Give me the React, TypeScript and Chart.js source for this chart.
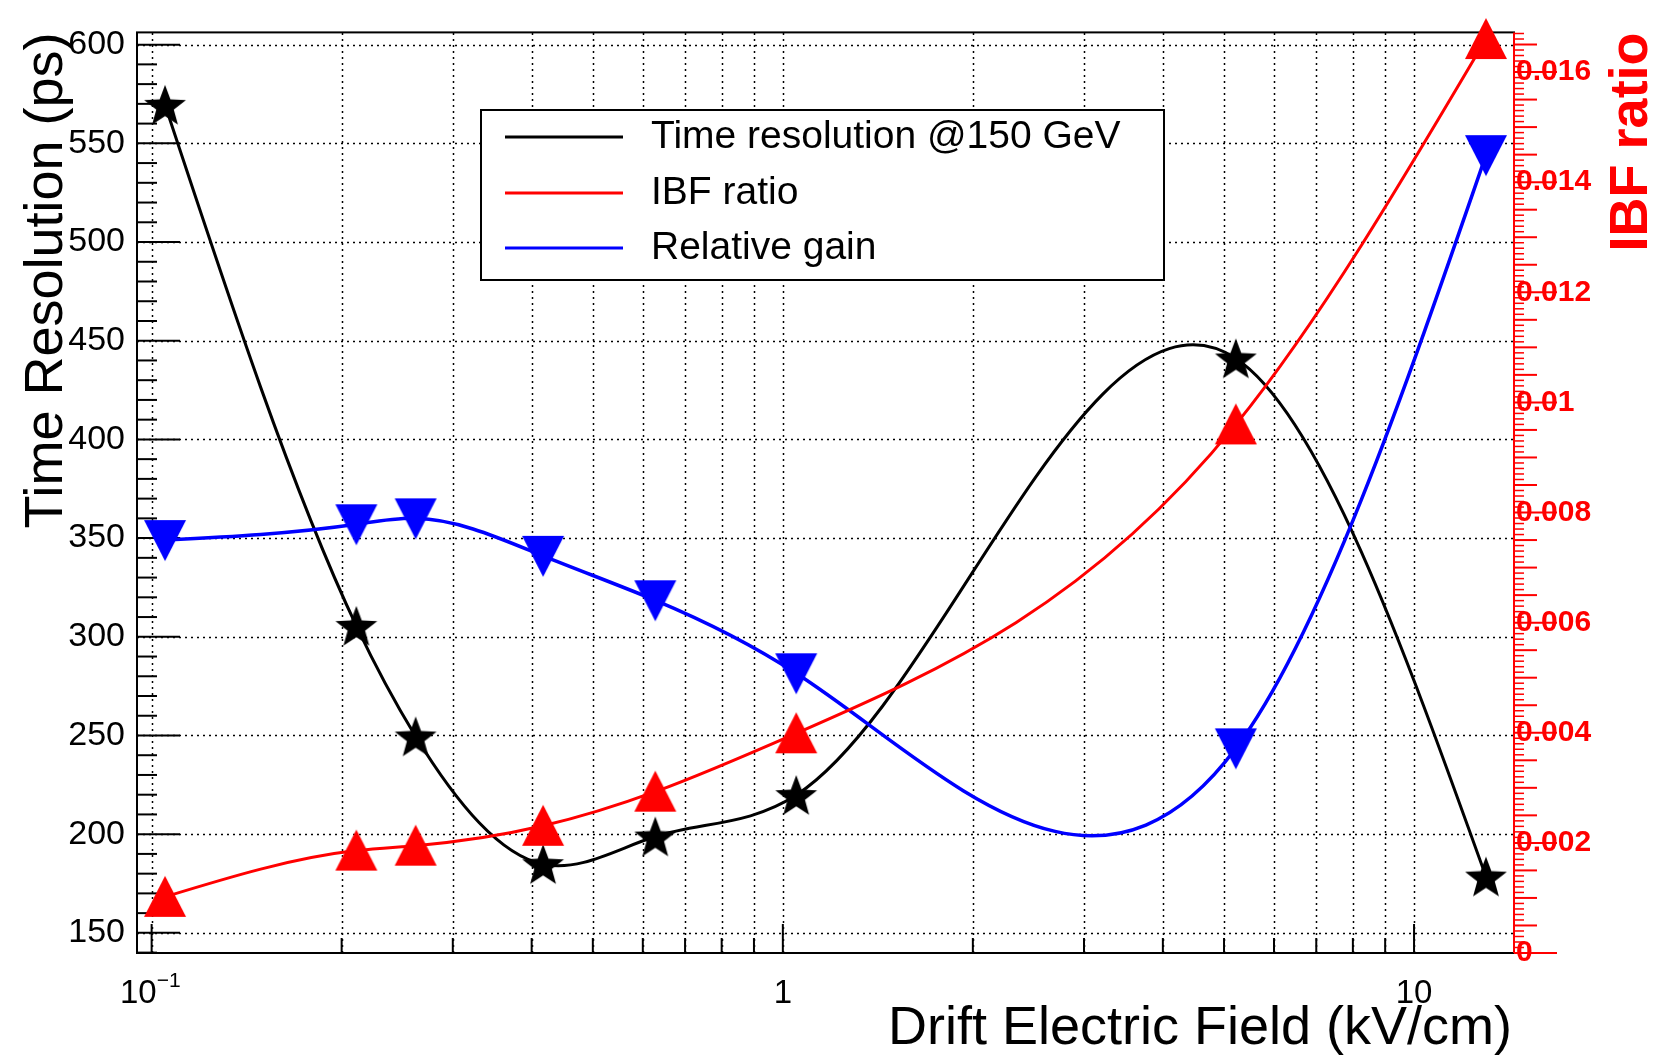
import React, { useEffect, useRef } from 'react';
import { Chart, registerables } from 'chart.js';

Chart.register(...registerables);

// ---------------- data ----------------
const fieldKVcm = [0.105, 0.211, 0.262, 0.417, 0.628, 1.05, 5.22, 13.0];
const timeResolutionPs = [569.5, 305.5, 249.5, 184.8, 198.8, 219.8, 441.0, 178.5];
const ibfRatio = [0.00102, 0.00186, 0.00195, 0.00231, 0.00293, 0.00399, 0.0096, 0.0166];
const relativeGain = [349, 357, 360, 341, 318.5, 281.5, 243.5, 544];

const seriesLabels = ['Time resolution @150 GeV', 'IBF ratio', 'Relative gain'];
const seriesColors = ['#000000', '#ff0000', '#0000ff'];

const xTickValues = [0.1, 0.2, 0.3, 0.4, 0.5, 0.6, 0.7, 0.8, 0.9, 1, 2, 3, 4, 5, 6, 7, 8, 9, 10];
const xMajorValues = [0.1, 1, 10];
const leftTickValues = [150, 200, 250, 300, 350, 400, 450, 500, 550, 600];
const rightTickValues = [0, 0.002, 0.004, 0.006, 0.008, 0.01, 0.012, 0.014, 0.016];
const rightTickLabels = ['0', '0.002', '0.004', '0.006', '0.008', '0.01', '0.012', '0.014', '0.016'];

const X_MIN = 0.0948;
const X_MAX = 14.4;
const TR_MIN = 139.8;
const TR_MAX = 606.2;
const IBF_MIN = 0;
const IBF_MAX = 0.01672;

const W = 1654;
const H = 1057;
const FONT = "'Liberation Sans', Arial, Helvetica, sans-serif";

// ---------------- markers ----------------
function makeMarker(kind: 'star' | 'up' | 'down', color: string): HTMLCanvasElement {
  const s = 50;
  const c = document.createElement('canvas');
  c.width = s;
  c.height = s;
  const g = c.getContext('2d') as CanvasRenderingContext2D;
  g.fillStyle = color;
  g.translate(s / 2, s / 2);
  g.beginPath();
  if (kind === 'star') {
    const R = 22;
    const r = 9.2;
    g.translate(0, 2);
    for (let i = 0; i < 10; i++) {
      const a = -Math.PI / 2 + (i * Math.PI) / 5;
      const rad = i % 2 === 0 ? R : r;
      const px = rad * Math.cos(a);
      const py = rad * Math.sin(a);
      if (i === 0) g.moveTo(px, py);
      else g.lineTo(px, py);
    }
  } else if (kind === 'up') {
    g.moveTo(0, -21);
    g.lineTo(21, 20);
    g.lineTo(-21, 20);
  } else {
    g.moveTo(0, 21);
    g.lineTo(21, -20);
    g.lineTo(-21, -20);
  }
  g.closePath();
  g.fill();
  return c;
}

// ---------------- smooth curve (parametric spline, scaled like ROOT's "C" option) ----------------
function splineDerivs(t: number[], v: number[]): number[] {
  const n = t.length;
  const h: number[] = [];
  for (let i = 0; i < n - 1; i++) h.push(Math.max(t[i + 1] - t[i], 1e-9));
  const M = new Array(n).fill(0);
  if (n > 2) {
    const m = n - 2;
    const a = new Array(m).fill(0);
    const b = new Array(m).fill(0);
    const c = new Array(m).fill(0);
    const d = new Array(m).fill(0);
    for (let k = 0; k < m; k++) {
      const i = k + 1;
      a[k] = h[i - 1];
      b[k] = 2 * (h[i - 1] + h[i]);
      c[k] = h[i];
      d[k] = 6 * ((v[i + 1] - v[i]) / h[i] - (v[i] - v[i - 1]) / h[i - 1]);
    }
    for (let k = 1; k < m; k++) {
      const w = a[k] / b[k - 1];
      b[k] -= w * c[k - 1];
      d[k] -= w * d[k - 1];
    }
    const sol = new Array(m).fill(0);
    sol[m - 1] = d[m - 1] / b[m - 1];
    for (let k = m - 2; k >= 0; k--) sol[k] = (d[k] - c[k] * sol[k + 1]) / b[k];
    for (let k = 0; k < m; k++) M[k + 1] = sol[k];
  }
  const D: number[] = [];
  for (let i = 0; i < n - 1; i++) D.push((v[i + 1] - v[i]) / h[i] - (h[i] * (2 * M[i] + M[i + 1])) / 6);
  D.push((v[n - 1] - v[n - 2]) / h[n - 2] + (h[n - 2] * (M[n - 2] + 2 * M[n - 1])) / 6);
  return D;
}

const smoothPlugin = {
  id: 'rootSmooth',
  beforeDatasetDraw(chart: any, args: any) {
    const meta = args.meta;
    const line: any = meta.dataset;
    const pts: any[] = meta.data;
    if (!line || !pts || pts.length < 3) return;
    const n = pts.length;
    const xs = pts.map((p) => p.x);
    const ys = pts.map((p) => p.y);
    let six = 1;
    let siy = 1;
    for (let i = 2; i < n; i++) {
      if ((xs[i] - xs[i - 1]) * (xs[i - 1] - xs[i - 2]) < 0) six++;
      if ((ys[i] - ys[i - 1]) * (ys[i - 1] - ys[i - 2]) < 0) siy++;
    }
    const ratio = six > 1 ? siy / six : 20;
    const xr = ratio / Math.max(Math.max(...xs) - Math.min(...xs), 1e-9);
    const yr = 1 / Math.max(Math.max(...ys) - Math.min(...ys), 1e-9);
    const t = [0];
    for (let i = 1; i < n; i++)
      t.push(t[i - 1] + Math.hypot((xs[i] - xs[i - 1]) * xr, (ys[i] - ys[i - 1]) * yr));
    const dx = splineDerivs(t, xs);
    const dy = splineDerivs(t, ys);
    for (let i = 0; i < n; i++) {
      const hp = i > 0 ? t[i] - t[i - 1] : 0;
      const hn = i < n - 1 ? t[i + 1] - t[i] : 0;
      pts[i].cp1x = xs[i] - (dx[i] * hp) / 3;
      pts[i].cp1y = ys[i] - (dy[i] * hp) / 3;
      pts[i].cp2x = xs[i] + (dx[i] * hn) / 3;
      pts[i].cp2y = ys[i] + (dy[i] * hn) / 3;
    }
    line._pointsUpdated = true;
    line._path = undefined;
  },
};

// ---------------- frame, grid, ticks ----------------
const framePlugin = {
  id: 'rootFrame',
  beforeDatasetsDraw(chart: any) {
    const { ctx, chartArea: a, scales } = chart;
    const xs = scales.x;
    const yl = scales.y;
    const yr = scales.y2;
    ctx.save();
    ctx.strokeStyle = '#000';
    ctx.lineWidth = 1.5;
    ctx.setLineDash([2, 4]);
    for (const v of leftTickValues) {
      const py = Math.round(yl.getPixelForValue(v)) + 0.5;
      ctx.beginPath();
      ctx.moveTo(a.left, py);
      ctx.lineTo(a.right, py);
      ctx.stroke();
    }
    for (const v of xTickValues) {
      const px = Math.round(xs.getPixelForValue(v)) + 0.5;
      ctx.beginPath();
      ctx.moveTo(px, a.bottom);
      ctx.lineTo(px, a.top);
      ctx.stroke();
    }
    ctx.setLineDash([]);
    ctx.lineWidth = 2;
    for (let v = 140; v <= 600; v += 10) {
      const py = yl.getPixelForValue(v);
      const len = v % 50 === 0 ? 43 : 20;
      ctx.beginPath();
      ctx.moveTo(a.left, py);
      ctx.lineTo(a.left + len, py);
      ctx.stroke();
    }
    for (const v of xTickValues) {
      const px = xs.getPixelForValue(v);
      const len = xMajorValues.includes(v) ? 29 : 15;
      ctx.beginPath();
      ctx.moveTo(px, a.bottom);
      ctx.lineTo(px, a.bottom - len);
      ctx.stroke();
    }
    ctx.lineWidth = 2;
    ctx.strokeStyle = '#000';
    ctx.strokeRect(a.left, a.top, a.right - a.left, a.bottom - a.top);
    ctx.strokeStyle = '#ff0000';
    ctx.beginPath();
    ctx.moveTo(a.right, a.top);
    ctx.lineTo(a.right, a.bottom);
    ctx.stroke();
    for (let k = 0; k <= 167; k++) {
      const v = k * 0.0001;
      if (v > IBF_MAX) break;
      const py = yr.getPixelForValue(v);
      const len = k % 20 === 0 ? 43 : k % 5 === 0 ? 23 : 10;
      ctx.lineWidth = k % 5 === 0 ? 2 : 1.5;
      ctx.beginPath();
      ctx.moveTo(a.right, py);
      ctx.lineTo(a.right + len, py);
      ctx.stroke();
    }
    ctx.restore();
  },
};

// ---------------- titles, legend, 10^-1 ----------------
const decorPlugin = {
  id: 'rootDecor',
  afterDraw(chart: any) {
    const { ctx, chartArea: a, scales } = chart;
    ctx.save();
    const p01 = scales.x.getPixelForValue(0.1);
    ctx.fillStyle = '#000';
    ctx.textBaseline = 'middle';
    ctx.font = `33px ${FONT}`;
    ctx.textAlign = 'right';
    ctx.fillText('10', p01 + 5, 994);
    ctx.font = `21px ${FONT}`;
    ctx.textAlign = 'left';
    ctx.fillText('\u22121', p01 + 5, 981);

    ctx.textBaseline = 'alphabetic';
    ctx.font = `54px ${FONT}`;
    ctx.textAlign = 'right';
    ctx.fillText('Drift Electric Field (kV/cm)', a.right - 2, 1044);

    ctx.save();
    ctx.translate(62, a.top);
    ctx.rotate(-Math.PI / 2);
    ctx.textAlign = 'right';
    ctx.fillText('Time Resolution (ps)', 0, 0);
    ctx.restore();

    ctx.save();
    ctx.translate(1647, a.top);
    ctx.rotate(-Math.PI / 2);
    ctx.textAlign = 'right';
    ctx.fillStyle = '#ff0000';
    ctx.font = `bold 54px ${FONT}`;
    ctx.fillText('IBF ratio', 0, 0);
    ctx.restore();

    const L = 481, T = 110, R = 1164, B = 280;
    ctx.fillStyle = '#fff';
    ctx.fillRect(L, T, R - L, B - T);
    ctx.strokeStyle = '#000';
    ctx.lineWidth = 2;
    ctx.strokeRect(L, T, R - L, B - T);
    const rows = [137, 193, 248];
    ctx.font = `39px ${FONT}`;
    ctx.textAlign = 'left';
    ctx.textBaseline = 'middle';
    chart.data.datasets.forEach((ds: any, i: number) => {
      const y = rows[i];
      ctx.strokeStyle = ds.borderColor;
      ctx.lineWidth = 3;
      ctx.beginPath();
      ctx.moveTo(505, y);
      ctx.lineTo(623, y);
      ctx.stroke();
      ctx.fillStyle = '#000';
      ctx.fillText(ds.label, 651, y);
    });
    ctx.restore();
  },
};

export default function App() {
  const ref = useRef<HTMLCanvasElement>(null);

  useEffect(() => {
    const canvas = ref.current;
    if (!canvas) return;
    const star = makeMarker('star', seriesColors[0]);
    const up = makeMarker('up', seriesColors[1]);
    const down = makeMarker('down', seriesColors[2]);

    const chart = new Chart(canvas, {
      type: 'line',
      data: {
        datasets: [
          {
            label: seriesLabels[0],
            data: fieldKVcm.map((x, i) => ({ x, y: timeResolutionPs[i] })),
            yAxisID: 'y',
            borderColor: seriesColors[0],
            backgroundColor: seriesColors[0],
            borderWidth: 3,
            pointStyle: star as any,
            pointRadius: 22,
            tension: 0.4,
            clip: false as any,
            order: 2,
          },
          {
            label: seriesLabels[1],
            data: fieldKVcm.map((x, i) => ({ x, y: ibfRatio[i] })),
            yAxisID: 'y2',
            borderColor: seriesColors[1],
            backgroundColor: seriesColors[1],
            borderWidth: 3,
            pointStyle: up as any,
            pointRadius: 21,
            tension: 0.4,
            clip: false as any,
            order: 0,
          },
          {
            label: seriesLabels[2],
            data: fieldKVcm.map((x, i) => ({ x, y: relativeGain[i] })),
            yAxisID: 'y',
            borderColor: seriesColors[2],
            backgroundColor: seriesColors[2],
            borderWidth: 3.5,
            pointStyle: down as any,
            pointRadius: 21,
            tension: 0.4,
            clip: false as any,
            order: 1,
          },
        ],
      },
      options: {
        responsive: false,
        maintainAspectRatio: false,
        devicePixelRatio: 1,
        animation: false,
        events: [],
        layout: { padding: { left: 0, right: 0, top: 19, bottom: 0 } },
        font: { family: FONT },
        plugins: {
          legend: { display: false },
          tooltip: { enabled: false },
          title: { display: false },
        },
        scales: {
          x: {
            type: 'logarithmic',
            position: 'bottom',
            min: X_MIN,
            max: X_MAX,
            afterBuildTicks: (s: any) => {
              s.ticks = xTickValues.map((v) => ({ value: v }));
            },
            afterFit: (s: any) => {
              s.height = 104;
            },
            grid: { display: false, drawTicks: false },
            border: { display: false },
            ticks: {
              autoSkip: false,
              maxRotation: 0,
              minRotation: 0,
              padding: 21,
              color: '#000',
              font: { family: FONT, size: 33 },
              callback: (v: any) => (v === 1 ? '1' : v === 10 ? '10' : ''),
            },
          },
          y: {
            type: 'linear',
            position: 'left',
            min: TR_MIN,
            max: TR_MAX,
            afterBuildTicks: (s: any) => {
              s.ticks = leftTickValues.map((v) => ({ value: v }));
            },
            afterFit: (s: any) => {
              s.width = 137;
            },
            grid: { display: false, drawTicks: false },
            border: { display: false },
            ticks: {
              padding: 12,
              color: '#000',
              font: { family: FONT, size: 34 },
              callback: (v: any) => String(v),
            },
          },
          y2: {
            type: 'linear',
            position: 'right',
            min: IBF_MIN,
            max: IBF_MAX,
            afterBuildTicks: (s: any) => {
              s.ticks = rightTickValues.map((v) => ({ value: v }));
            },
            afterFit: (s: any) => {
              s.width = 140;
            },
            grid: { display: false, drawTicks: false },
            border: { display: false },
            ticks: {
              padding: 2,
              color: '#ff0000',
              font: { family: FONT, size: 30, weight: 'bold' },
              callback: (_v: any, i: number) => rightTickLabels[i],
            },
          },
        },
      } as any,
      plugins: [framePlugin, smoothPlugin, decorPlugin],
    });
    return () => chart.destroy();
  }, []);

  return (
    <div style={{ position: 'fixed', left: 0, top: 0, width: W, height: H, background: '#fff' }}>
      <canvas ref={ref} width={W} height={H} style={{ display: 'block', width: W, height: H }} />
    </div>
  );
}
